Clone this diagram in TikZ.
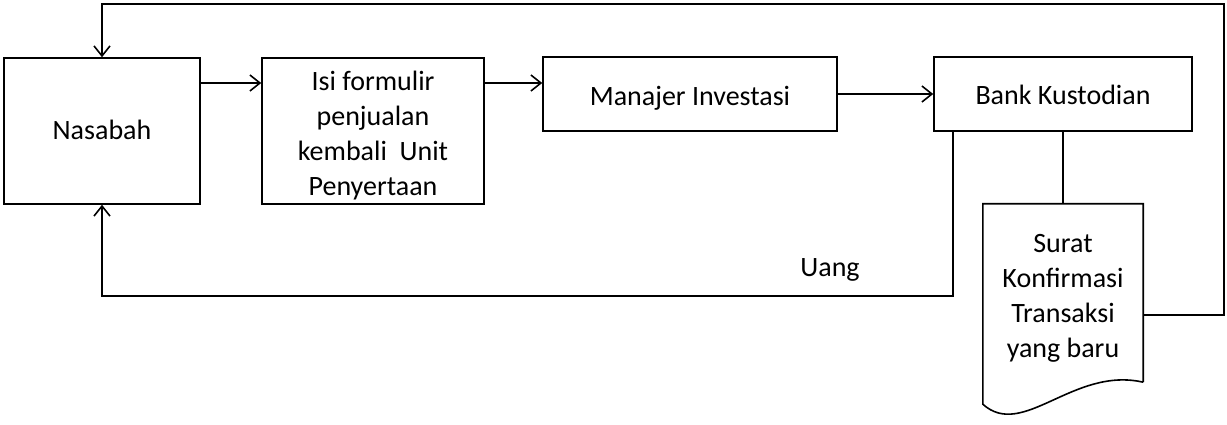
\documentclass[tikz,border=0pt]{standalone}
\usepackage{fontspec}
\setmainfont{Carlito}
\usetikzlibrary{arrows.meta}
\newcommand{\lines}[2][4pt]{\raisebox{0pt}[\dimexpr\height+#1\relax][\dimexpr\depth-#1\relax]{\begin{tabular}{@{}c@{}}#2\end{tabular}}}
\tikzset{
  box/.style={draw, line width=1.6pt, inner sep=0pt, align=center},
  arr/.style={line width=1.6pt, -{Straight Barb[length=10pt,width=16pt,line width=1.6pt]}},
  lnk/.style={line width=1.6pt}
}

\begin{document}
\begin{tikzpicture}[x=1pt, y=-1pt, font=\fontsize{28}{35}\selectfont]
		%%%%% START %%%%%
		\useasboundingbox (0, 0) rectangle (1227, 425);
		
		\node[box, minimum width=196pt, minimum height=146pt] (nasabah) at (102, 131) {\lines[1.5pt]{Nasabah}};
		\node[box, minimum width=222pt, minimum height=146pt] (isi) at (373, 131) {\lines[5pt]{Isi formulir\\penjualan\\kembali\ \ Unit\\Penyertaan}};
		\node[box, minimum width=294pt, minimum height=74pt] (manajer) at (690, 94) {\lines[4.5pt]{Manajer Investasi}};
		\node[box, minimum width=258pt, minimum height=74pt] (bank) at (1063, 94) {\lines[4pt]{Bank Kustodian}};
		
		% dokumen
		\node[inner sep=0pt, align=center, minimum width=160pt, minimum height=182pt] (surat) at (1063, 295) {\lines[3pt]{Surat\\Konfirmasi\\Transaksi\\yang baru}};
		\draw[lnk, line join=miter] ([yshift=4pt]surat.south east) -- (surat.north east) -- (surat.north west) -- ([yshift=-18pt]surat.south west)
			.. controls ++(40, 36) and ++(-70, -16) .. ([yshift=4pt]surat.south east);
		
		\coordinate (topR) at (1224, 4);
		\coordinate (uangpt) at (500, 296);
		
		\draw[arr] ([yshift=48pt]nasabah.east) -- ([yshift=48pt]nasabah.east -| isi.west);
		\draw[arr] ([yshift=48pt]isi.east) -- ([yshift=48pt]isi.east -| manajer.west);
		\draw[arr] (manajer.east) -- (bank.west);
		\draw[lnk] (bank.south) -- (surat.north);
		
		\draw[arr] ([xshift=20pt]bank.south west) |- (uangpt) -| (nasabah.south);
		\node (uang) at (830, 270) {Uang};
		
		\draw[arr] ([yshift=-20pt]surat.east) -| (topR) -| (nasabah.north);
		%%%%% END %%%%%
\end{tikzpicture}
\end{document}
